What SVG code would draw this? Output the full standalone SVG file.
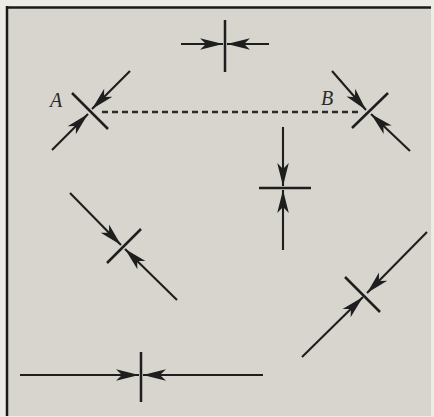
<svg xmlns="http://www.w3.org/2000/svg" width="434" height="417" viewBox="0 0 434 417">
  <style>
    .shaft { stroke: #1e1e1e; stroke-width: 2.1; fill: none; marker-end: url(#ah); }
    .tick { stroke: #1e1e1e; stroke-width: 2.5; fill: none; }
    .dash { stroke: #2a2a2a; stroke-width: 2.5; stroke-dasharray: 6 4; fill: none; }
    .lbl { font-family: "Liberation Serif", "Times New Roman", serif; font-style: italic; font-size: 20px; fill: #2a2a2a; }
  </style>
  <defs>
    <marker id="ah" markerUnits="userSpaceOnUse" markerWidth="26" markerHeight="14" viewBox="-24 -7 26 14" refX="0" refY="0" orient="auto">
      <path d="M0,0 L-23,-5.8 L-17,0 L-23,5.8 Z" fill="#1e1e1e"/>
    </marker>
  </defs>
  <rect x="0" y="0" width="434" height="417" fill="#ecebe6"/>
  <rect x="7" y="7" width="424" height="409" fill="#d7d5cd"/>
  <line x1="6" y1="7.5" x2="431" y2="7.5" stroke="#1a1a1a" stroke-width="2.5"/>
  <line x1="7" y1="6" x2="7" y2="416" stroke="#1a1a1a" stroke-width="2.5"/>

  <g id="connectors">
    <line class="dash" x1="102" y1="112" x2="362" y2="112"/>
  </g>

  <g id="top">
    <line class="tick" x1="225" y1="20" x2="225" y2="72"/>
    <line class="shaft" x1="181" y1="44" x2="223" y2="44"/>
    <line class="shaft" x1="269" y1="44" x2="227" y2="44"/>
  </g>

  <g id="nodeA">
    <line class="tick" x1="72" y1="93" x2="108" y2="129"/>
    <line class="shaft" x1="130" y1="71" x2="92" y2="109"/>
    <line class="shaft" x1="52" y1="150" x2="88" y2="114"/>
    <text class="lbl" x="50" y="107">A</text>
  </g>

  <g id="nodeB">
    <line class="tick" x1="352" y1="128" x2="388" y2="93"/>
    <line class="shaft" x1="332" y1="71" x2="366" y2="110"/>
    <line class="shaft" x1="410" y1="151" x2="371" y2="114"/>
    <text class="lbl" x="321" y="105">B</text>
  </g>

  <g id="vertical">
    <line class="tick" x1="259" y1="188" x2="311" y2="188"/>
    <line class="shaft" x1="283" y1="127" x2="283" y2="186"/>
    <line class="shaft" x1="283" y1="250" x2="283" y2="190"/>
  </g>

  <g id="diagLeft">
    <line class="tick" x1="107" y1="263" x2="141" y2="229"/>
    <line class="shaft" x1="70" y1="193" x2="121" y2="245"/>
    <line class="shaft" x1="177" y1="300" x2="125" y2="249"/>
  </g>

  <g id="diagRight">
    <line class="tick" x1="345" y1="277" x2="380" y2="312"/>
    <line class="shaft" x1="427" y1="232" x2="367" y2="293"/>
    <line class="shaft" x1="302" y1="357" x2="363" y2="297"/>
  </g>

  <g id="bottom">
    <line class="tick" x1="141" y1="352" x2="141" y2="402"/>
    <line class="shaft" x1="20" y1="375" x2="139" y2="375"/>
    <line class="shaft" x1="263" y1="375" x2="143" y2="375"/>
  </g>
</svg>
